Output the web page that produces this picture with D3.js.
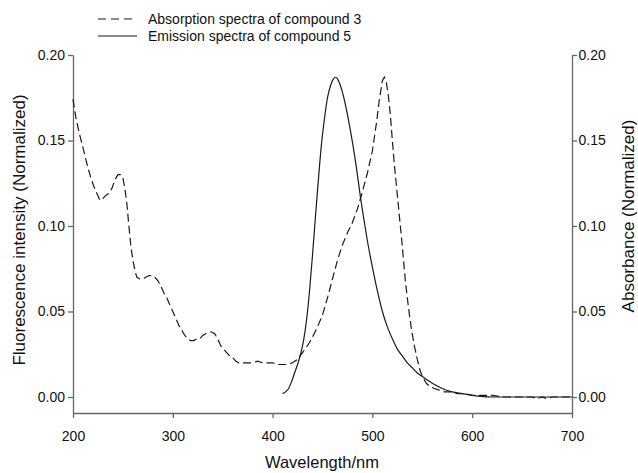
<!DOCTYPE html>
<html>
<head>
<meta charset="utf-8">
<script src="https://cdnjs.cloudflare.com/ajax/libs/d3/7.8.5/d3.min.js"></script>
<style>
  body { margin: 0; background: #fff; }
  svg text { font-family: "Liberation Sans", Arial, sans-serif; fill: #111; }
</style>
</head>
<body>
<svg id="chart" width="638" height="473"></svg>
<script>
// Absorption spectra of compound 3 (dashed)
var absWavelength = [200, 203, 206, 209, 212, 215, 218, 221, 224, 227, 230, 233, 236, 239, 242, 245, 248, 250,
  252, 254, 256, 258, 260, 262, 264, 267, 270, 273, 276, 279, 282, 285, 288, 291, 294, 297, 300, 303, 306,
  309, 312, 315, 318, 321, 324, 327, 330, 333, 336, 339, 342, 345, 348, 351, 354, 357, 360, 363, 366, 370,
  375, 380, 385, 390, 395, 400, 405, 410, 415, 420, 425, 430, 435, 440, 445, 450, 455, 460, 465, 470, 475,
  480, 485, 490, 495, 500, 504, 507, 510, 512, 514, 516, 518, 520, 522, 524, 527, 530, 533, 536, 539, 542,
  545, 548, 551, 554, 558, 562, 567, 572, 578, 585, 592, 600, 610, 620, 630, 640, 650, 660, 665, 670, 675,
  680, 690, 700];
var absValue = [0.174, 0.163, 0.155, 0.148, 0.141, 0.134, 0.128, 0.123, 0.119, 0.115, 0.116, 0.118, 0.119,
  0.122, 0.127, 0.130, 0.130, 0.128, 0.122, 0.113, 0.100, 0.088, 0.080, 0.074, 0.070, 0.069, 0.069, 0.070,
  0.071, 0.071, 0.070, 0.068, 0.065, 0.061, 0.058, 0.054, 0.050, 0.046, 0.042, 0.039, 0.036, 0.034, 0.033,
  0.033, 0.034, 0.034, 0.036, 0.037, 0.038, 0.038, 0.037, 0.034, 0.030, 0.028, 0.026, 0.024, 0.023, 0.021,
  0.020, 0.020, 0.020, 0.020, 0.021, 0.020, 0.020, 0.020, 0.019, 0.019, 0.019, 0.020, 0.022, 0.026, 0.030,
  0.035, 0.041, 0.048, 0.058, 0.069, 0.080, 0.089, 0.096, 0.102, 0.110, 0.120, 0.131, 0.144, 0.160, 0.174,
  0.185, 0.187, 0.184, 0.176, 0.165, 0.150, 0.136, 0.124, 0.106, 0.088, 0.068, 0.053, 0.040, 0.030, 0.022,
  0.015, 0.011, 0.008, 0.006, 0.005, 0.004, 0.003, 0.003, 0.002, 0.002, 0.001, 0.001, 0.001, 0.000, 0.000,
  0.000, 0.000, -0.001, 0.000, -0.001, 0.000, 0.000, 0.000];

// Emission spectra of compound 5 (solid)
var emWavelength = [410, 413, 416, 419, 422, 425, 428, 431, 434, 437, 440, 443, 446, 449, 452, 455, 458, 461,
  463, 465, 468, 471, 474, 477, 480, 484, 488, 492, 496, 500, 505, 510, 515, 520, 525, 530, 535, 540, 545,
  550, 555, 560, 570, 580, 590, 600, 620, 650, 700];
var emValue = [0.002, 0.003, 0.005, 0.009, 0.014, 0.019, 0.025, 0.033, 0.045, 0.062, 0.083, 0.106, 0.128,
  0.148, 0.163, 0.175, 0.182, 0.186, 0.187, 0.186, 0.182, 0.176, 0.168, 0.159, 0.149, 0.134, 0.117, 0.102,
  0.088, 0.076, 0.062, 0.050, 0.041, 0.034, 0.028, 0.024, 0.020, 0.017, 0.014, 0.012, 0.010, 0.008, 0.005,
  0.003, 0.002, 0.001, 0.000, 0.000, 0.000];

var xTicks = [200, 300, 400, 500, 600, 700];
var yTicks = [0.00, 0.05, 0.10, 0.15, 0.20];
var legendLabels = ["Absorption spectra of compound 3", "Emission spectra of compound 5"];

var absData = absWavelength.map(function(w, i) { return {x: w, y: absValue[i]}; });
var emData = emWavelength.map(function(w, i) { return {x: w, y: emValue[i]}; });

var svg = d3.select("#chart");
var axisColor = "#666";

var x = d3.scaleLinear().domain([200, 700]).range([73, 572]);
var y = d3.scaleLinear().domain([-0.00936, 0.2]).range([413, 55]);

// axes
var xAxis = svg.append("g")
               .attr("transform", "translate(0,413)")
               .call(d3.axisBottom(x).tickValues(xTicks).tickSize(5).tickPadding(13).tickSizeOuter(0));

var yLeft = svg.append("g")
               .attr("transform", "translate(73,0)")
               .call(d3.axisLeft(y).tickValues(yTicks).tickFormat(d3.format(".2f"))
                       .tickSize(5).tickPadding(3).tickSizeOuter(0));

var yRight = svg.append("g")
                .attr("transform", "translate(572,0)")
                .call(d3.axisRight(y).tickValues(yTicks).tickFormat(d3.format(".2f"))
                        .tickSize(5).tickPadding(1.5).tickSizeOuter(0));

[xAxis, yLeft, yRight].forEach(function(g) {
  g.selectAll("path, line").attr("stroke", axisColor).attr("stroke-width", 1.3);
  g.selectAll("text")
   .attr("fill", "#111")
   .style("font-family", "'Liberation Sans', Arial, sans-serif")
   .style("font-size", "14px");
});

// axis titles
svg.append("text")
   .attr("x", 322).attr("y", 468)
   .attr("text-anchor", "middle")
   .style("font-size", "16.5px")
   .text("Wavelength/nm");

svg.append("text")
   .attr("transform", "translate(25,230) rotate(-90)")
   .attr("text-anchor", "middle")
   .style("font-size", "17px")
   .text("Fluorescence intensity (Normalized)");

svg.append("text")
   .attr("transform", "translate(634,216) rotate(-90)")
   .attr("text-anchor", "middle")
   .style("font-size", "17px")
   .text("Absorbance (Normalized)");

// curves
var line = d3.line()
             .x(function(d) { return x(d.x); })
             .y(function(d) { return y(d.y); });

svg.append("path")
   .datum(absData)
   .attr("fill", "none")
   .attr("stroke", "#1a1a1a")
   .attr("stroke-width", 1.2)
   .attr("stroke-dasharray", "8,4")
   .attr("d", line.curve(d3.curveLinear));

svg.append("path")
   .datum(emData)
   .attr("fill", "none")
   .attr("stroke", "#1a1a1a")
   .attr("stroke-width", 1.2)
   .attr("d", line.curve(d3.curveMonotoneX));

// legend
var legend = svg.selectAll("g.legend")
                .data(legendLabels)
                .enter().append("g")
                .attr("class", "legend")
                .attr("transform", function(d, i) { return "translate(98," + (19 + i * 17) + ")"; });

legend.append("line")
      .attr("x1", 0).attr("x2", function(d, i) { return i === 0 ? 35 : 39; })
      .attr("y1", 0).attr("y2", 0)
      .attr("stroke", "#1a1a1a")
      .attr("stroke-width", 1.2)
      .attr("stroke-dasharray", function(d, i) { return i === 0 ? "8,5" : null; });

legend.append("text")
      .attr("x", 50)
      .attr("y", 5)
      .style("font-size", "14px")
      .text(function(d) { return d; });
</script>
</body>
</html>
